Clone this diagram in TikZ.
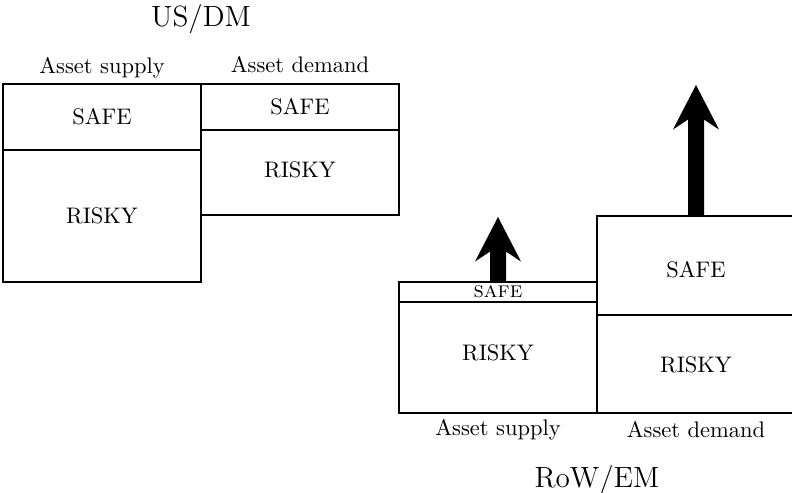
\documentclass[tikz,border=0pt]{standalone}
\begin{document}
\begin{tikzpicture}[x=0.4444pt,y=-0.4444pt,
  box/.style={line width=0.9pt, line join=miter},
  lab/.style={inner sep=0pt, anchor=base, font=\normalsize},
  ttl/.style={inner sep=0pt, anchor=base, font=\fontsize{13}{16}\selectfont},
  bigarrow/.style={fill=black, draw=none}]
\useasboundingbox (0,0) rectangle (792,493);
% US/DM boxes
\draw[box] (3,84) rectangle (201,282);
\draw[box] (3,150) -- (201,150);
\draw[box] (201,84) rectangle (399,215);
\draw[box] (201,130) -- (399,130);
% RoW/EM boxes
\draw[box] (399,282) rectangle (597,413);
\draw[box] (399,302) -- (597,302);
\draw[box] (800,216) -- (597,216) -- (597,413) -- (800,413);
\draw[box] (597,315) -- (800,315);
% arrows
\coordinate (t1) at (498,217);
\coordinate (t2) at (696,85);
\fill[bigarrow] (t1) -- ++(23,44.5) -- ++(-15,-10) -- (506,282) -- (490,282) -- (490,251.5) -- ++(-15,10) -- cycle;
\fill[bigarrow] (t2) -- ++(23,44.5) -- ++(-15,-10) -- (704,215.5) -- (688,215.5) -- (688,119.5) -- ++(-15,10) -- cycle;
% titles
\node[ttl] (usdm) at (201,26) {US/DM};
\node[ttl] (rowem) at (597,487) {RoW/EM};
% labels
\node[lab] (s1) at (102,73) {Asset supply};
\node[lab] (d1) at (300,72) {Asset demand};
\node[lab] (s2) at (498,435) {Asset supply};
\node[lab] (d2) at (696,437) {Asset demand};
% box texts
\node[lab] (safe1) at (102,124) {SAFE};
\node[lab] (risky1) at (102,223) {RISKY};
\node[lab] (safe2) at (300,114) {SAFE};
\node[lab] (risky2) at (300,177) {RISKY};
\node[lab] (safe3) at (498,297) {\textsc{safe}};
\node[lab] (risky3) at (498,360) {RISKY};
\node[lab] (safe4) at (696,277) {SAFE};
\node[lab] (risky4) at (696,372) {RISKY};
\end{tikzpicture}
\end{document}
